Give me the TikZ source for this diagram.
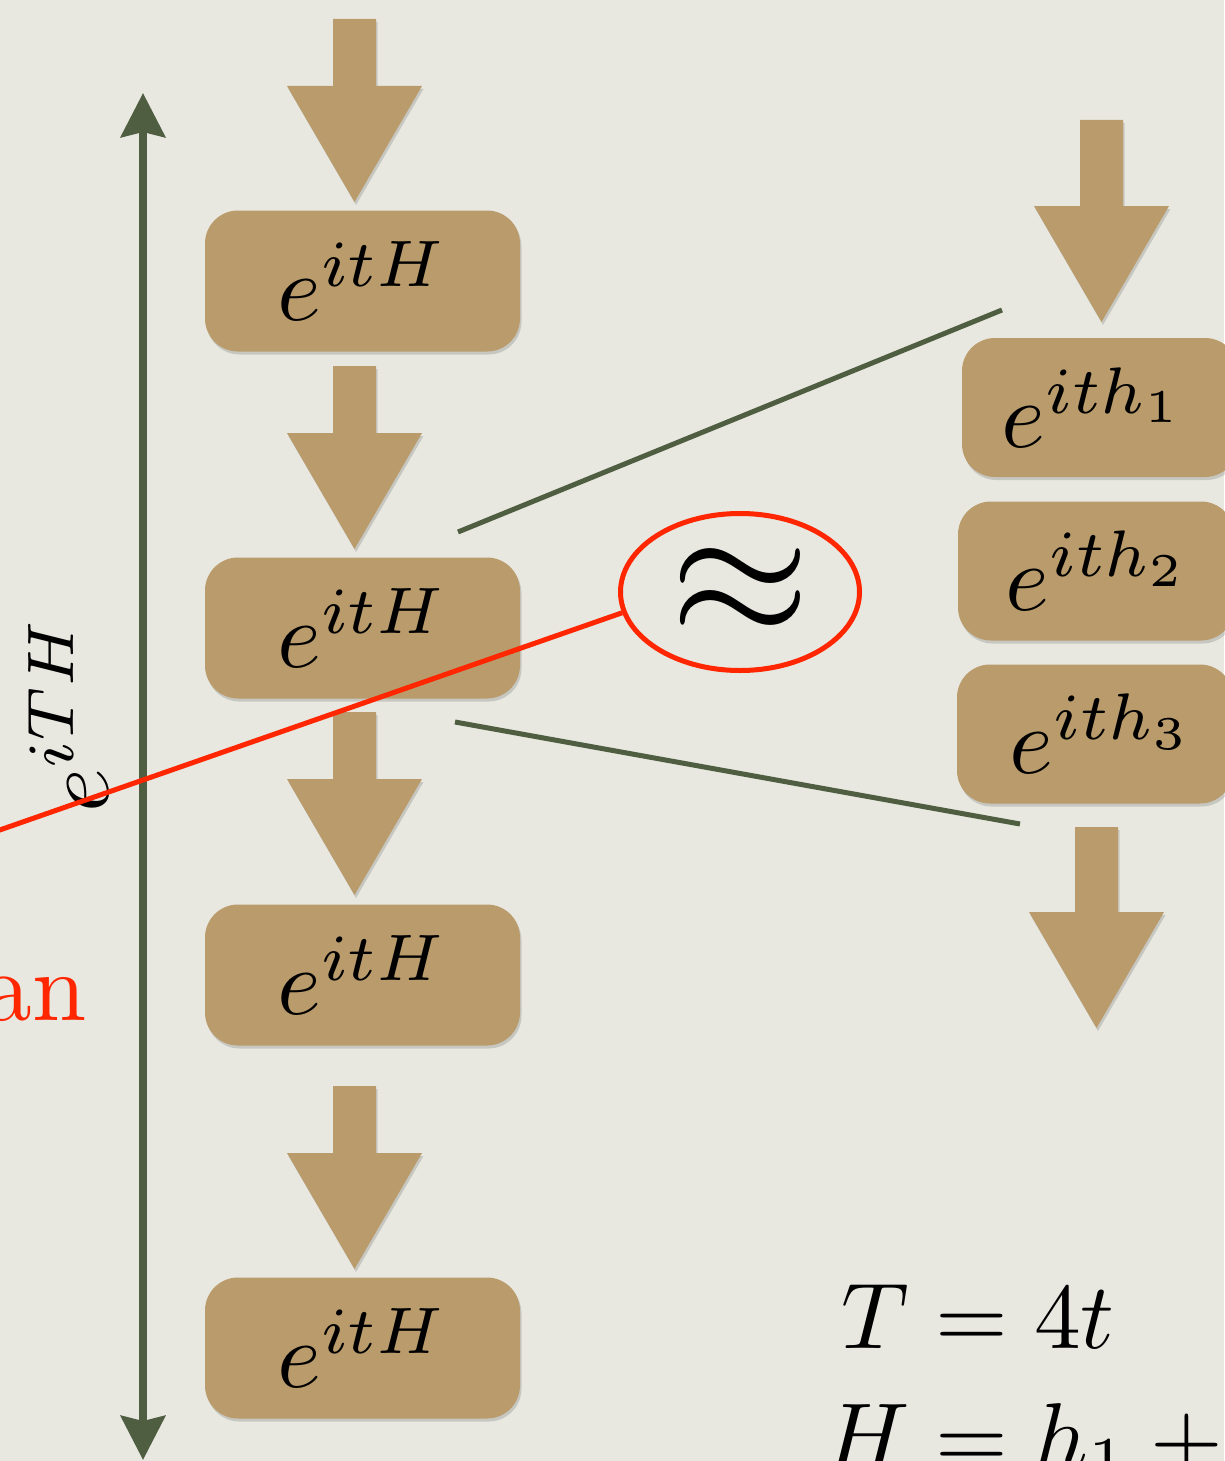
\documentclass[tikz,border=0pt]{standalone}
\usepackage{graphicx}
\usepackage{amsmath}
\usetikzlibrary{arrows.meta,shapes.geometric,shadows}
\definecolor{bgc}{RGB}{232,232,225}
\definecolor{kraft}{RGB}{185,155,108}
\definecolor{lineGreen}{RGB}{79,93,64}
\definecolor{redc}{RGB}{255,38,0}
\tikzset{
  softshadow/.style={drop shadow={shadow xshift=1.5pt,shadow yshift=-3pt,opacity=0.14,fill=black}},
  gate/.style={fill=kraft, rounded corners=33pt, minimum width=315pt, minimum height=141pt, inner sep=0pt, softshadow},
  rgate/.style={gate, minimum width=276pt, minimum height=139pt},
  zoomline/.style={draw=lineGreen, line width=5pt},
  redline/.style={draw=redc, line width=5pt},
  pics/blockarrow/.style={code={
    \fill[kraft, softshadow] (-21.5,0) -- (21.5,0) -- (21.5,#1) -- (67.5,#1) -- (0,#1+116) -- (-67.5,#1) -- (-21.5,#1) -- cycle;
  }}
}
\newcommand{\gatemath}[1]{\scalebox{9.4}{$#1$}}
\begin{document}
\begin{tikzpicture}[x=1pt,y=-1pt]
\path[use as bounding box, fill=bgc] (0,0) rectangle (1224,1461);

% time axis
\coordinate (axbot) at (143,1460);
\coordinate (axtop) at (143,93);
\draw[lineGreen, line width=8.5pt, {Stealth[length=44pt,width=44pt,inset=5pt]}-{Stealth[length=44pt,width=44pt,inset=5pt]}] (axbot) -- (axtop);
\node[rotate=90, anchor=base, inner sep=0pt] (totlabel) at (108,714) {\gatemath{e^{iTH}}};

% left column
\pic at (354.5,19) {blockarrow=67};
\node[gate] (L1) at (362.5,281) {\gatemath{e^{itH}}};
\pic at (354.5,366) {blockarrow=67};
\node[gate] (L2) at (362.5,628) {\gatemath{e^{itH}}};
\pic at (354.5,712) {blockarrow=67};
\node[gate] (L3) at (362.5,975) {\gatemath{e^{itH}}};
\pic at (354.5,1086) {blockarrow=67};
\node[gate] (L4) at (362.5,1348) {\gatemath{e^{itH}}};

% right column
\pic at (1101.5,120) {blockarrow=86};
\node[rgate] (R1) at (1100,407.5) {\hspace*{-12pt}\gatemath{e^{ith_1}}};
\node[rgate] (R2) at (1096,571) {\hspace*{4pt}\gatemath{e^{ith_2}}};
\node[rgate] (R3) at (1095,734) {\hspace*{14pt}\gatemath{e^{ith_3}}};
\pic at (1096.5,827) {blockarrow=85};

% zoom lines
\coordinate (zu1) at (458,532);
\coordinate (zu2) at (1002,310);
\coordinate (zl1) at (455,722);
\coordinate (zl2) at (1020,824);
\draw[zoomline] (zu1) -- (zu2);
\draw[zoomline] (zl1) -- (zl2);

% approx
\node[ellipse, draw=redc, line width=5pt, minimum width=239pt, minimum height=157pt, inner sep=0pt] (approx) at (740,592) {\scalebox{18}{$\approx$}};

% red annotation
\node[anchor=base east, text=redc, inner sep=0pt] (redword) at (87,1020) {\scalebox{9.75}{an}};
\coordinate (redfree) at (-6,832);
\draw[redline] (redfree) -- (approx.190);

% definitions
\node[anchor=base west, inner sep=0pt] (defs) at (824,1348) {\scalebox{9.35}{$\begin{aligned}[t] T &= 4t\\[-2.1pt] H &= h_1 +{} \end{aligned}$}};
\end{tikzpicture}
\end{document}
